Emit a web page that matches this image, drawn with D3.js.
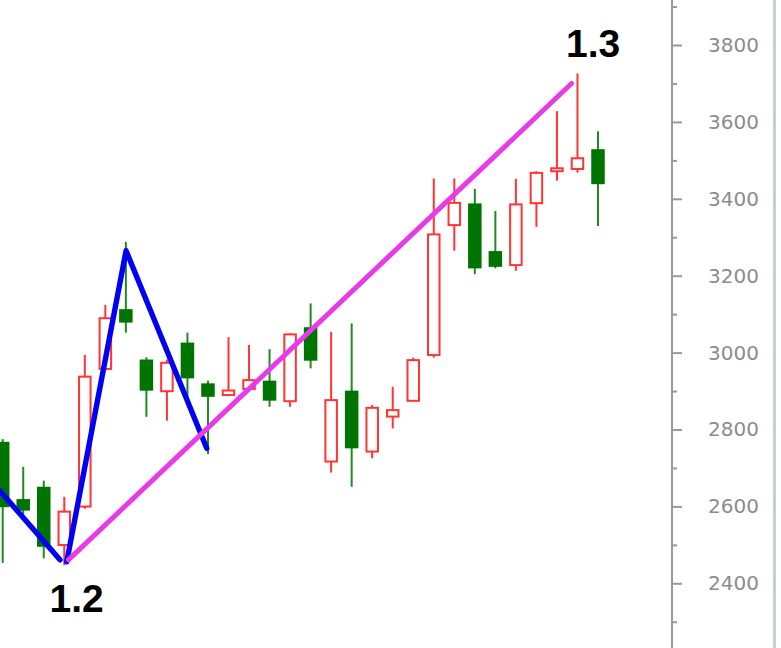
<!DOCTYPE html>
<html><head><meta charset="utf-8">
<script src="https://cdn.jsdelivr.net/npm/d3@7"></script>
<style>
html,body{margin:0;padding:0;background:#fff;}
svg{display:block;}
</style></head>
<body>
<script>
// ---- data ----
const opens  = [2768,2619,2651,2497,2597,2955,3113,2982,2897,3026,2920,2887,2903,2927,2871,3066,2714,2901,2740,2831,2872,2991,3329,3388,3264,3225,3386,3469,3475,3529];
const highs  = [2775,2703,2667,2625,2994,3124,3288,2988,2982,3052,2927,3040,3020,3009,3050,3128,3054,3076,2864,2911,2987,3453,3453,3426,3368,3452,3472,3628,3726,3576];
const lows   = [2453,2580,2465,2447,2594,2953,3052,2833,2823,2877,2736,2887,2903,2859,2859,2959,2688,2651,2725,2803,2872,2987,3265,3204,3219,3213,3327,3447,3468,3329];
const closes = [2598,2589,2495,2589,2940,3092,3078,2901,2976,2933,2885,2904,2931,2875,3050,2979,2879,2751,2859,2853,2983,3310,3392,3219,3223,3388,3470,3482,3508,3438];

const majorTicks = [2400,2600,2800,3000,3200,3400,3600,3800];
const minorTicks = [2300,2500,2700,2900,3100,3300,3500,3700,3900];

// trend lines: [candle index, price]
const leftLeg   = [[-0.13,2640],[2.79,2461]];
const zigzag    = [[3.12,2456],[6.01,3265],[9.94,2751]];
const trendLine = [[3.2,2461],[27.71,3700]];

const waveLabels = ["1.2","1.3"];
const labelAnchors = [[3.6,2325],[28.76,3769]];

// ---- drawing ----
const W = 781, H = 648;
const svg = d3.select("body").append("svg").attr("width",W).attr("height",H);

const x = d3.scaleLinear().domain([0,29]).range([2.7,598]);
const y = d3.scaleLinear().domain([2400,3800]).range([583.3,45]);

const bodyW = 13.5;
const candles = opens.map((o,i)=>({i,o,h:highs[i],l:lows[i],c:closes[i],up:closes[i]>=opens[i]}));
const RED = "#ff3434", GREEN = "#007400";

const g = svg.append("g");
// wicks
g.selectAll("line.wick").data(candles).join("line")
  .attr("class","wick")
  .attr("x1",d=>x(d.i)).attr("x2",d=>x(d.i))
  .attr("y1",d=>y(d.h)).attr("y2",d=>y(d.l))
  .attr("stroke",d=>d.up?RED:"#1f8a1f").attr("stroke-width",2);
// bodies
g.selectAll("rect.body").data(candles).join("rect")
  .attr("class","body")
  .attr("x",d=>x(d.i)-(d.up?(bodyW-2)/2:bodyW/2))
  .attr("width",d=>d.up?bodyW-2:bodyW)
  .attr("y",d=>y(Math.max(d.o,d.c))+(d.up?1:0))
  .attr("height",d=>Math.max(1,Math.abs(y(d.o)-y(d.c))-(d.up?2:0)))
  .attr("fill",d=>d.up?"#fff":GREEN)
  .attr("stroke",d=>d.up?RED:"none")
  .attr("stroke-width",2);

const line = d3.line().x(d=>x(d[0])).y(d=>y(d[1]));
svg.append("path").attr("d",line(leftLeg)).attr("fill","none")
  .attr("stroke","#0000f5").attr("stroke-width",5.4).attr("stroke-linecap","round").attr("stroke-linejoin","round");
svg.append("path").attr("d",line(zigzag)).attr("fill","none")
  .attr("stroke","#0000f5").attr("stroke-width",5.4).attr("stroke-linecap","round").attr("stroke-linejoin","round");
svg.append("path").attr("d",line(trendLine)).attr("fill","none")
  .attr("stroke","#e83ae8").attr("stroke-width",5).attr("stroke-linecap","round");

// wave labels
svg.selectAll("text.wave").data(waveLabels).join("text")
  .attr("class","wave")
  .attr("x",(d,i)=>x(labelAnchors[i][0]))
  .attr("y",(d,i)=>y(labelAnchors[i][1]))
  .attr("text-anchor","middle")
  .attr("font-family","'Liberation Sans', Arial, sans-serif")
  .attr("font-weight","bold").attr("font-size",39)
  .attr("fill","#000")
  .text(d=>d);

// axis
const axisX = 672;
svg.append("line").attr("x1",axisX).attr("x2",axisX).attr("y1",0).attr("y2",H)
  .attr("stroke","#9a9a9a").attr("stroke-width",2);
const axMinor = svg.append("g").attr("transform",`translate(${axisX},0)`)
  .call(d3.axisRight(y).tickValues(minorTicks).tickSize(5).tickFormat(""));
const axMajor = svg.append("g").attr("transform",`translate(${axisX},0)`)
  .call(d3.axisRight(y).tickValues(majorTicks).tickSize(10).tickPadding(26).tickFormat(d3.format("d")));
[axMinor,axMajor].forEach(a=>{
  a.select(".domain").remove();
  a.selectAll(".tick line").attr("stroke","#9a9a9a").attr("stroke-width",2);
  a.selectAll(".tick text").attr("fill","#8c8c8c")
    .attr("font-family","'DejaVu Sans', Verdana, sans-serif").attr("font-size",20);
});

// right border
svg.append("rect").attr("x",773).attr("y",0).attr("width",3).attr("height",H).attr("fill","#c9ced6");
</script>
</body></html>
